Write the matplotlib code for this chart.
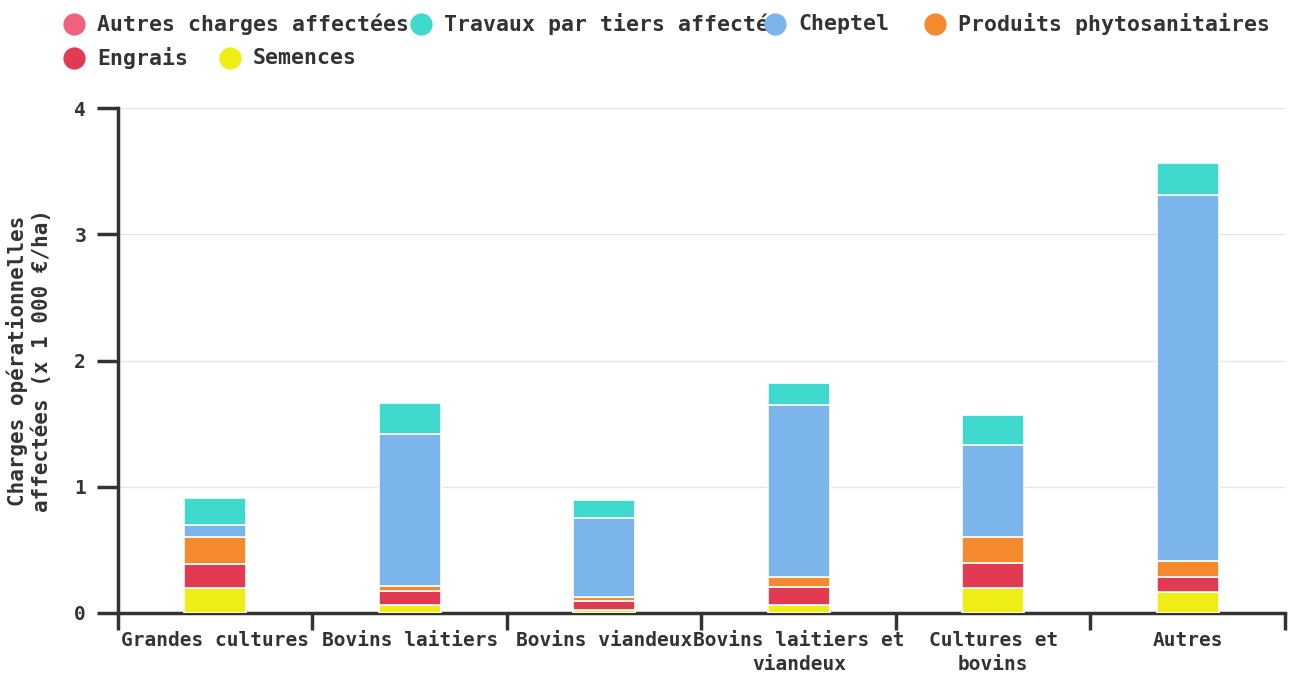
import numpy as np
import matplotlib.pyplot as plt
from matplotlib.lines import Line2D
from matplotlib.ticker import FixedLocator

# Données (x 1 000 €/ha)
categories = ['Grandes cultures', 'Bovins laitiers', 'Bovins viandeux',
              'Bovins laitiers et\nviandeux', 'Cultures et\nbovins', 'Autres']
semences = [0.20, 0.065, 0.025, 0.065, 0.20, 0.17]
engrais = [0.19, 0.11, 0.07, 0.14, 0.20, 0.115]
phyto = [0.21, 0.04, 0.03, 0.08, 0.20, 0.125]
cheptel = [0.10, 1.20, 0.63, 1.36, 0.73, 2.90]
travaux = [0.21, 0.25, 0.14, 0.18, 0.24, 0.255]
autres = [0, 0, 0, 0, 0, 0]

series_names = ['Semences', 'Engrais', 'Produits phytosanitaires', 'Cheptel',
                'Travaux par tiers affectés', 'Autres charges affectées']
series_vals = [semences, engrais, phyto, cheptel, travaux, autres]
colors = ['#eeee16', '#e23a53', '#f5892e', '#7cb5ec', '#40d9cd', '#f0607f']

plt.rcParams['font.family'] = ['DejaVu Sans Mono']
plt.rcParams['font.weight'] = 'bold'
txt = '#333333'

fig = plt.figure(figsize=(12.96, 6.77), dpi=100)
ax = fig.add_axes([118 / 1296, 1 - 613 / 677, (1285 - 118) / 1296, (613 - 108) / 677])

x = np.arange(len(categories))
bottom = np.zeros(len(categories))
for name, vals, c in zip(series_names, series_vals, colors):
    vals = np.array(vals, dtype=float)
    lw = [1.2 if v > 0 else 0 for v in vals]
    ax.bar(x, vals, width=0.32, bottom=bottom, color=c, edgecolor='white',
           linewidth=lw, zorder=3)
    bottom += vals

ax.set_xlim(-0.5, len(categories) - 0.5)
ax.set_ylim(0, 4)
ax.set_yticks([0, 1, 2, 3, 4])
ax.yaxis.grid(True, color='#e6e6e6', linewidth=1, zorder=0)

ax.set_xticks(x)
ax.set_xticklabels(categories, fontsize=14, color=txt, fontweight='bold',
                   linespacing=1.3)
ax.xaxis.set_minor_locator(FixedLocator(np.arange(-0.5, len(categories), 1)))
ax.tick_params(axis='x', which='major', length=0, pad=13)
ax.tick_params(axis='x', which='minor', length=12, width=2.5, color='#333333')
ax.tick_params(axis='y', length=15, width=2.5, color='#333333', labelsize=14,
               labelcolor=txt, pad=8)

for s in ['top', 'right']:
    ax.spines[s].set_visible(False)
for s in ['left', 'bottom']:
    ax.spines[s].set_linewidth(2.5)
    ax.spines[s].set_color('#333333')

ax.set_ylabel('Charges opérationnelles\naffectées (x 1 000 €/ha)', fontsize=15,
              color=txt, fontweight='bold', labelpad=16)

# Légende posée à la main (disposition en flux comme l'original)
leg_items = [('Autres charges affectées', '#f0607f', 74, 24),
             ('Travaux par tiers affectés', '#40d9cd', 421, 24),
             ('Cheptel', '#7cb5ec', 775, 24),
             ('Produits phytosanitaires', '#f5892e', 935, 24),
             ('Engrais', '#e23a53', 74, 58),
             ('Semences', '#eeee16', 230, 58)]
for label, c, px, py in leg_items:
    fig.text((px + 23) / 1296, 1 - py / 677, label, fontsize=15.5, color=txt,
             fontweight='bold', va='center', ha='left', zorder=3)
    fig.add_artist(Line2D([px / 1296], [1 - py / 677], marker='o', markersize=16,
                          markerfacecolor=c, markeredgewidth=0, linestyle='none',
                          transform=fig.transFigure, zorder=5))

fig.savefig('out.png', dpi=100)
